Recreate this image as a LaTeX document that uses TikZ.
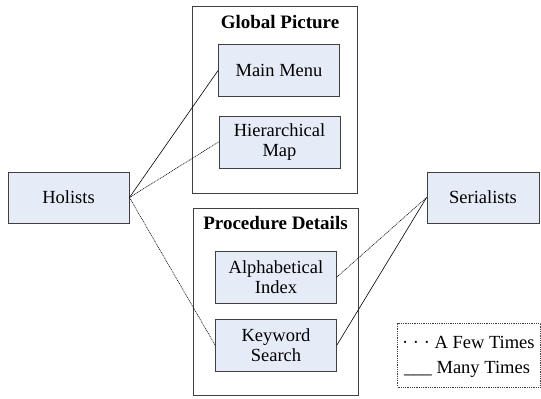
\documentclass[tikz,border=0pt]{standalone}
\usepackage{fontspec}
\setmainfont{Liberation Serif}
\definecolor{boxfill}{RGB}{230,236,247}
\definecolor{boxline}{RGB}{64,64,64}
\tikzset{
    box/.style={draw=boxline, fill=boxfill, line width=0.9pt, minimum width=121pt, minimum height=52pt, inner sep=0pt, align=center, font=\fontsize{18.5}{20.5}\selectfont},
    frame/.style={draw=boxline, line width=0.9pt, minimum width=165pt, minimum height=187pt, inner sep=0pt},
    title/.style={inner sep=0pt, font=\fontsize{19}{22}\selectfont\bfseries},
    legendtext/.style={anchor=base west, inner sep=0pt, font=\fontsize{18.5}{20.5}\selectfont},
    many/.style={line width=0.6pt},
    few/.style={line width=0.6pt, dash pattern=on 1pt off 0.8pt},
}
\begin{document}
\begin{tikzpicture}[x=1pt,y=-1pt]
        \useasboundingbox (0,0) rectangle (541,399);
        % the two groups
        \node[frame] (global) at (274.5,100) {};
        \node[frame] (procedure) at (275.5,302) {};
        \node[title] (globaltitle) at (280,22) {Global Picture};
        \node[title] (proceduretitle) at (275.5,223) {Procedure Details};
        \foreach \x/\y/\n/\l in {279/70.5/mainmenu/{Main Menu},279.5/142/hiermap/{Hierarchical\\Map},276/277/alphaindex/{Alphabetical\\Index},276/345/keyword/{Keyword\\Search}}{
            \node[box] (\n) at (\x,\y) {\l};
        }
        \node[box, minimum height=51pt] (holists) at (68.5,197.5) {Holists};
        \node[box, minimum width=112pt, minimum height=51pt] (serialists) at (483,197.5) {Serialists};
        % connectors
        \foreach \m/\n/\s in {holists.east/mainmenu.west/many,holists.east/hiermap.west/few,holists.east/keyword.west/few,serialists.west/alphaindex.east/few,serialists.west/keyword.east/many}{
            \draw[\s] (\m) -- (\n);
        }
        % legend
        \node[draw=boxline, line width=0.6pt, dash pattern=on 1pt off 0.8pt, minimum width=143pt, minimum height=64pt] (legend) at (469,355) {};
        \node[legendtext] (fewtext) at (402,348) {· · · A Few Times};
        \node[legendtext] (manytext) at (404,373) {\_\_\_\ Many Times};
    \end{tikzpicture}
\end{document}
